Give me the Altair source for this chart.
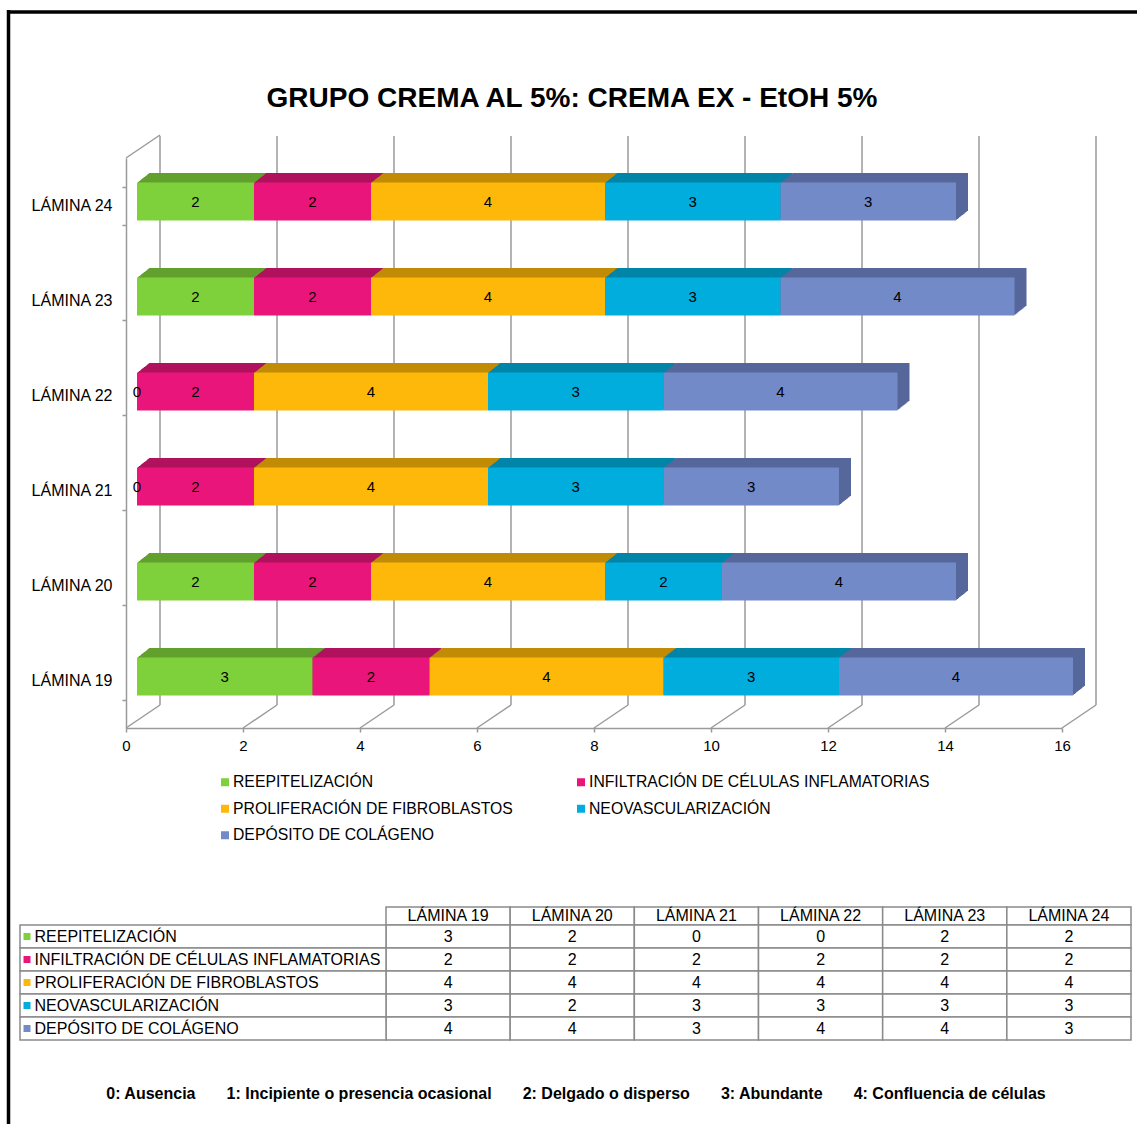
import altair as alt
import pandas as pd

# ---------------- data ----------------
laminas = ["LÁMINA 19", "LÁMINA 20", "LÁMINA 21", "LÁMINA 22", "LÁMINA 23", "LÁMINA 24"]
series = [
    "REEPITELIZACIÓN",
    "INFILTRACIÓN DE CÉLULAS INFLAMATORIAS",
    "PROLIFERACIÓN DE FIBROBLASTOS",
    "NEOVASCULARIZACIÓN",
    "DEPÓSITO DE COLÁGENO",
]
reepitelizacion = [3, 2, 0, 0, 2, 2]
infiltracion = [2, 2, 2, 2, 2, 2]
proliferacion = [4, 4, 4, 4, 4, 4]
neovascularizacion = [3, 2, 3, 3, 3, 3]
deposito = [4, 4, 3, 4, 4, 3]
x_ticks = [0, 2, 4, 6, 8, 10, 12, 14, 16]
front_colors = ["#7FD13B", "#EA157A", "#FEB80A", "#00ADDC", "#738AC8"]
top_colors = ["#62A12E", "#B1125E", "#C18B06", "#0084A8", "#56679B"]
chart_title = "GRUPO CREMA AL 5%: CREMA EX - EtOH 5%"
scale_notes = [
    "0: Ausencia",
    "1: Incipiente o presencia ocasional",
    "2: Delgado o disperso",
    "3: Abundante",
    "4: Confluencia de células",
]

values_by_series = [reepitelizacion, infiltracion, proliferacion, neovascularizacion, deposito]

rows = []
for j, lam in enumerate(laminas):
    acc = 0
    for i, s in enumerate(series):
        v = values_by_series[i][j]
        rows.append(dict(lamina=lam, serie=s, value=v, start=acc, end=acc + v, mid=acc + v / 2))
        acc += v
df = pd.DataFrame(rows)
ticks_df = pd.DataFrame({"v": x_ticks})
leg_df = pd.DataFrame({"serie": series,
                       "col": [i % 2 for i in range(len(series))],
                       "row": [i // 2 for i in range(len(series))]})

FONT = "Liberation Sans"
GRID = "#9a9a9a"
TBL = "#8a8a8a"

# ---------------- 3D bar chart ----------------
XS = alt.Scale(domain=[0, 16], range=[126, 1062], nice=False, zero=False)
YS = alt.Scale(domain=laminas[::-1], range=[158, 728], paddingInner=0.6, paddingOuter=0.3)
AX = alt.Axis(values=x_ticks, offset=-396, title=None, grid=False, domainColor=GRID,
              domainWidth=1.5, tickColor=GRID, tickSize=4, tickWidth=1.5, labelFont=FONT,
              labelFontSize=15, labelColor="#000000", labelPadding=6, labelFlush=False,
              labelOverlap=False, format="d")
AY = alt.Axis(offset=-126, title=None, tickBand="extent", domainColor=GRID, domainWidth=1.5,
              tickColor=GRID, tickSize=4, tickWidth=1.5, labelFont=FONT, labelFontSize=16,
              labelColor="#000000", labelPadding=10)
COLS = alt.Scale(domain=series, range=front_colors)

DX, DY = 11, -4          # front face offset from the front plane
DEPTH_X, DEPTH_Y = 12, 9.5
NSTEP = 12

back_grid = alt.Chart(ticks_df).mark_rule(xOffset=34, color=GRID, strokeWidth=1.5).encode(
    x=alt.X("v:Q", scale=XS, axis=AX), y=alt.value(136), y2=alt.value(705))
floor_diag = alt.Chart(ticks_df).mark_rule(x2Offset=34, color=GRID, strokeWidth=1.5).encode(
    x=alt.X("v:Q", scale=XS, axis=AX), x2="v:Q", y=alt.value(728), y2=alt.value(705))
wall_diag = alt.Chart(pd.DataFrame({"v": [0]})).mark_rule(x2Offset=34, color=GRID, strokeWidth=1.5).encode(
    x=alt.X("v:Q", scale=XS, axis=AX), x2="v:Q", y=alt.value(158), y2=alt.value(135))

depth_layers = []
for k in range(NSTEP, 0, -1):
    ox = DX + k * DEPTH_X / NSTEP
    oy = DY - k * DEPTH_Y / NSTEP
    depth_layers.append(
        alt.Chart(df).mark_bar(xOffset=ox, x2Offset=ox, yOffset=oy, y2Offset=oy).encode(
            x=alt.X("start:Q", scale=XS, axis=AX),
            x2="end:Q",
            y=alt.Y("lamina:N", scale=YS, sort=None, axis=AY),
            fill=alt.Fill("serie:N", scale=alt.Scale(domain=series, range=top_colors), legend=None),
        )
    )

front = alt.Chart(df).mark_bar(xOffset=DX, x2Offset=DX, yOffset=DY, y2Offset=DY).encode(
    x=alt.X("start:Q", scale=XS, axis=AX),
    x2="end:Q",
    y=alt.Y("lamina:N", scale=YS, sort=None, axis=AY),
    color=alt.Color("serie:N", scale=COLS, legend=None),
)
labels = alt.Chart(df).mark_text(xOffset=DX, yOffset=DY, font=FONT, fontSize=15, color="#000000").encode(
    x=alt.X("mid:Q", scale=XS, axis=AX),
    y=alt.Y("lamina:N", scale=YS, sort=None, axis=AY),
    text="value:Q",
)
bars_group = alt.layer(back_grid, floor_diag, wall_diag, *depth_layers, front, labels)

# ---------------- legend (two columns, row-major) ----------------
XL = alt.Scale(type="band", domain=[0, 1], range=[43, 755], paddingInner=0, paddingOuter=0)
YL = alt.Scale(type="band", domain=[0, 1, 2], range=[769, 848.5], paddingInner=0, paddingOuter=0)
leg_x = alt.X("col:O", scale=XL, axis=None)
leg_y = alt.Y("row:O", scale=YL, axis=None)
legend_group = alt.layer(
    alt.Chart(leg_df).mark_point(shape="square", filled=True, size=64, opacity=1, xOffset=4).encode(
        x=leg_x, y=leg_y, color=alt.Color("serie:N", scale=COLS, legend=None)),
    alt.Chart(leg_df).mark_text(align="left", xOffset=12, font=FONT, fontSize=15.75, color="#000000").encode(
        x=leg_x, y=leg_y, text="serie:N"),
)

# ---------------- data table ----------------
XT = alt.Scale(type="band", domain=laminas, range=[386, 1131], paddingInner=0, paddingOuter=0)
YH = alt.Scale(type="band", domain=["h"], range=[907, 925], paddingInner=0, paddingOuter=0)
YT = alt.Scale(type="band", domain=series, range=[925, 1040], paddingInner=0, paddingOuter=0)
XR = alt.Scale(type="band", domain=["c"], range=[20, 386], paddingInner=0, paddingOuter=0)

hdr_df = pd.DataFrame({"lamina": laminas, "r": ["h"] * len(laminas)})
hdr_base = alt.Chart(hdr_df).encode(
    x=alt.X("lamina:N", scale=XT, axis=None, sort=None),
    y=alt.Y("r:N", scale=YH, axis=None),
)
hdr_group = alt.layer(
    hdr_base.mark_rect(fill="white", stroke=TBL, strokeWidth=1.5),
    hdr_base.mark_text(font=FONT, fontSize=16, color="#000000").encode(text="lamina:N"),
)

val_base = alt.Chart(df).encode(
    x=alt.X("lamina:N", scale=XT, axis=None, sort=None),
    y=alt.Y("serie:N", scale=YT, axis=None, sort=None),
)
val_group = alt.layer(
    val_base.mark_rect(fill="white", stroke=TBL, strokeWidth=1.5),
    val_base.mark_text(font=FONT, fontSize=16, color="#000000").encode(text="value:Q"),
)

rh_df = pd.DataFrame({"serie": series, "c": ["c"] * len(series)})
rh_y = alt.Y("serie:N", scale=YT, axis=None, sort=None)
rh_group = alt.layer(
    alt.Chart(rh_df).mark_rect(fill="white", stroke=TBL, strokeWidth=1.5).encode(
        x=alt.X("c:N", scale=XR, axis=None), y=rh_y),
    alt.Chart(rh_df).mark_point(shape="square", filled=True, size=49, opacity=1, xOffset=7).encode(
        x=alt.X("c:N", scale=XR, axis=None, bandPosition=0), y=rh_y,
        color=alt.Color("serie:N", scale=COLS, legend=None)),
    alt.Chart(rh_df).mark_text(align="left", xOffset=14.5, font=FONT, fontSize=16, color="#000000").encode(
        x=alt.X("c:N", scale=XR, axis=None, bandPosition=0), y=rh_y, text="serie:N"),
)

# ---------------- title, footnote, frame ----------------
one = pd.DataFrame({"t": [chart_title]})
title_mark = alt.Chart(one).mark_text(font=FONT, fontSize=28, fontWeight="bold", color="#000000",
                                      baseline="alphabetic").encode(
    text="t:N", x=alt.value(572), y=alt.value(107))
note_df = pd.DataFrame({"t": [("\u00a0" * 7).join(scale_notes)]})
note_mark = alt.Chart(note_df).mark_text(font=FONT, fontSize=16, fontWeight="bold", color="#000000").encode(
    text="t:N", x=alt.value(576), y=alt.value(1094))
frame_top = alt.Chart(one).mark_rule(color="#000000", strokeWidth=3.5).encode(
    x=alt.value(7), x2=alt.value(1137), y=alt.value(12))
frame_left = alt.Chart(one).mark_rule(color="#000000", strokeWidth=3.5).encode(
    x=alt.value(8.5), y=alt.value(10), y2=alt.value(1124))
extras = alt.layer(title_mark, note_mark, frame_top, frame_left)

chart = alt.layer(bars_group, legend_group, hdr_group, val_group, rh_group, extras).resolve_scale(
    x="independent", y="independent"
).properties(
    width=1137, height=1124, padding=0,
    autosize=alt.AutoSizeParams(type="none"), background="white",
).configure_view(stroke=None)

chart.save("out.html", embed_options={"renderer": "svg", "actions": False})
